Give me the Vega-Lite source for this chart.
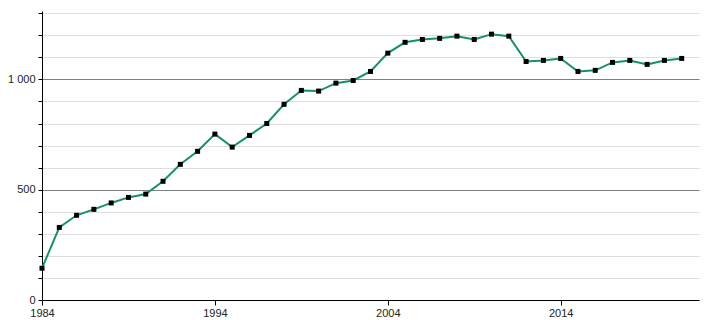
{
  "$schema": "https://vega.github.io/schema/vega-lite/v6.json",
  "width": 657,
  "height": 289,
  "autosize": "none",
  "padding": {"left": 42, "top": 11, "right": 11, "bottom": 20},
  "background": "white",
  "config": {"view": {"stroke": null}, "font": "Liberation Sans"},
  "data": {"values": [
    {"year": 1984, "value": 144},
    {"year": 1985, "value": 329},
    {"year": 1986, "value": 384},
    {"year": 1987, "value": 411},
    {"year": 1988, "value": 440},
    {"year": 1989, "value": 465},
    {"year": 1990, "value": 480},
    {"year": 1991, "value": 538},
    {"year": 1992, "value": 615},
    {"year": 1993, "value": 674},
    {"year": 1994, "value": 752},
    {"year": 1995, "value": 693},
    {"year": 1996, "value": 746},
    {"year": 1997, "value": 800},
    {"year": 1998, "value": 887},
    {"year": 1999, "value": 950},
    {"year": 2000, "value": 947},
    {"year": 2001, "value": 983},
    {"year": 2002, "value": 995},
    {"year": 2003, "value": 1036},
    {"year": 2004, "value": 1119},
    {"year": 2005, "value": 1168},
    {"year": 2006, "value": 1181},
    {"year": 2007, "value": 1186},
    {"year": 2008, "value": 1196},
    {"year": 2009, "value": 1181},
    {"year": 2010, "value": 1205},
    {"year": 2011, "value": 1196},
    {"year": 2012, "value": 1081},
    {"year": 2013, "value": 1086},
    {"year": 2014, "value": 1095},
    {"year": 2015, "value": 1036},
    {"year": 2016, "value": 1041},
    {"year": 2017, "value": 1077},
    {"year": 2018, "value": 1086},
    {"year": 2019, "value": 1068},
    {"year": 2020, "value": 1086},
    {"year": 2021, "value": 1095}
  ]},
  "encoding": {
    "x": {
      "field": "year", "type": "quantitative",
      "scale": {"domain": [1984, 2022], "nice": false, "zero": false},
      "axis": {
        "title": null, "values": [1984, 1994, 2004, 2014], "format": "d",
        "grid": false, "domainColor": "#000", "tickColor": "#000", "tickSize": 5,
        "labelFontSize": 11, "labelColor": "#222", "labelPadding": 2,
        "labelFlush": false, "labelOverlap": false
      }
    },
    "y": {
      "field": "value", "type": "quantitative",
      "scale": {"domain": [0, 1310], "nice": false},
      "axis": {
        "title": null,
        "values": [0, 100, 200, 300, 400, 500, 600, 700, 800, 900, 1000, 1100, 1200, 1300],
        "labelExpr": "datum.value == 0 ? '0' : datum.value == 500 ? '500' : datum.value == 1000 ? '1 000' : ''",
        "grid": true,
        "gridColor": {"condition": {"test": "datum.value % 500 == 0", "value": "#808080"}, "value": "#dedede"},
        "gridWidth": 1,
        "domainColor": "#000", "tickColor": "#000",
        "tickSize": 4, "labelFontSize": 11, "labelColor": "#222", "labelPadding": 3,
        "labelFlush": false, "labelOverlap": false
      }
    }
  },
  "layer": [
    {"mark": {"type": "line", "color": "#14906c", "strokeWidth": 2}},
    {"mark": {"type": "square", "color": "#000", "opacity": 1, "filled": true, "size": 25}}
  ]
}
